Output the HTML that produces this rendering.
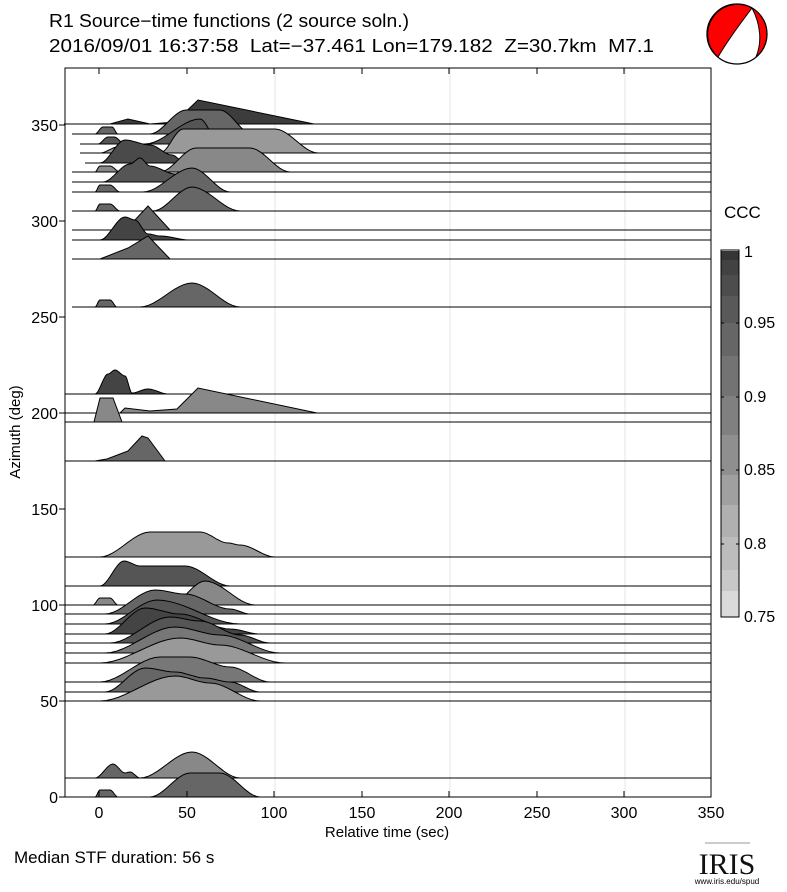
<!DOCTYPE html>
<html><head><meta charset="utf-8"><style>
body{margin:0;background:#fff;width:787px;height:887px;overflow:hidden;font-family:"Liberation Sans",sans-serif}
</style></head><body>
<svg id="s" width="787" height="887" xmlns="http://www.w3.org/2000/svg" font-family="Liberation Sans, sans-serif">
<rect width="787" height="887" fill="#fff"/>
<g stroke="#e6e6e6" stroke-width="1">
<line x1="275" y1="68" x2="275" y2="797"/><line x1="450" y1="68" x2="450" y2="797"/><line x1="625" y1="68" x2="625" y2="797"/>
</g>
<g id="tr"></g>
<rect x="65" y="68" width="646" height="729" fill="none" stroke="#000" stroke-width="1"/>
<g font-size="18" fill="#000">
<text x="49" y="27" textLength="360" lengthAdjust="spacingAndGlyphs">R1 Source−time functions (2 source soln.)</text>
<text x="49" y="52" textLength="605" lengthAdjust="spacingAndGlyphs" xml:space="preserve">2016/09/01 16:37:58  Lat=−37.461 Lon=179.182  Z=30.7km  M7.1</text>
</g>
<g font-size="16" text-anchor="end">
<text x="58" y="803">0</text><text x="58" y="707">50</text><text x="58" y="611">100</text><text x="58" y="515">150</text><text x="58" y="419">200</text><text x="58" y="323">250</text><text x="58" y="227">300</text><text x="58" y="131">350</text>
</g>
<g stroke="#000"><line x1="59" x2="65" y1="797" y2="797"/><line x1="59" x2="65" y1="701" y2="701"/><line x1="59" x2="65" y1="605" y2="605"/><line x1="59" x2="65" y1="509" y2="509"/><line x1="59" x2="65" y1="413" y2="413"/><line x1="59" x2="65" y1="317" y2="317"/><line x1="59" x2="65" y1="221" y2="221"/><line x1="59" x2="65" y1="125" y2="125"/>
<line x1="99" x2="99" y1="797" y2="791"/><line x1="187" x2="187" y1="797" y2="791"/><line x1="274" x2="274" y1="797" y2="791"/><line x1="362" x2="362" y1="797" y2="791"/><line x1="449" x2="449" y1="797" y2="791"/><line x1="537" x2="537" y1="797" y2="791"/><line x1="624" x2="624" y1="797" y2="791"/>
<line x1="99" x2="99" y1="68" y2="74"/><line x1="187" x2="187" y1="68" y2="74"/><line x1="274" x2="274" y1="68" y2="74"/><line x1="362" x2="362" y1="68" y2="74"/><line x1="449" x2="449" y1="68" y2="74"/><line x1="537" x2="537" y1="68" y2="74"/><line x1="624" x2="624" y1="68" y2="74"/></g>
<g font-size="16" text-anchor="middle">
<text x="99" y="818">0</text><text x="187" y="818">50</text><text x="274" y="818">100</text><text x="362" y="818">150</text><text x="449" y="818">200</text><text x="537" y="818">250</text><text x="624" y="818">300</text><text x="711" y="818">350</text>
<text x="387" y="837" font-size="15">Relative time (sec)</text>
<text x="20" y="432" font-size="15" transform="rotate(-90 20 432)">Azimuth (deg)</text>
</g>
<text x="14" y="863" font-size="17">Median STF duration: 56 s</text>
<text x="724" y="218" font-size="17">CCC</text>
<g id="cb"></g>
<g font-size="16"><text x="744" y="622">0.75</text><text x="744" y="549">0.8</text><text x="744" y="475">0.85</text><text x="744" y="402">0.9</text><text x="744" y="328">0.95</text><text x="744" y="257">1</text></g>
<g>
<circle cx="737" cy="34" r="30" fill="#fff" stroke="#000" stroke-width="1.3"/>
<path d="M752,8 A30,30 0 0 0 718,57 C728,40 740,24 752,8 Z" fill="#f00" stroke="#000"/>
<path d="M752,8 A30,30 0 0 1 756,57 C762,43 761,25 752,8 Z" fill="#f00" stroke="#000"/>
</g>
<text x="727" y="874" font-family="Liberation Serif, serif" font-size="30" text-anchor="middle" fill="#111">IRIS</text>
<line x1="705" y1="843" x2="750" y2="843" stroke="#999"/>
<text x="727" y="884" font-size="8" text-anchor="middle">www.iris.edu/spud</text>
</svg>
<script>
var T=[
[124,64,'#3c3c3c',0,[[110,0],[128,5],[150,0],[175,2],[198,24],[314,0]]],
[134,72,'#666',1,[[95,0],[103,7],[112,7],[118,0],[150,0],[186,24],[220,24],[252,0]]],
[144,80,'#555',1,[[98,0],[108,7],[114,7],[125,0],[145,0],[200,25],[220,0]]],
[153,80,'#999',1,[[100,0],[118,6],[125,0],[160,0],[183,24],[275,24],[318,0]]],
[163,85,'#4a4a4a',1,[[100,0],[125,23],[150,18],[172,8],[185,0]]],
[172,72,'#888',1,[[95,0],[100,6],[110,6],[120,0],[160,0],[196,24],[250,24],[290,0]]],
[182,72,'#555',1,[[103,0],[130,18],[140,24],[150,16],[175,8],[200,0]]],
[192,72,'#666',1,[[95,0],[100,7],[110,7],[120,0],[143,0],[192,24],[230,0]]],
[211,72,'#666',1,[[95,0],[100,7],[110,7],[120,0],[153,0],[192,24],[240,0]]],
[230,72,'#666',0,[[128,0],[133,8],[148,24],[170,0]]],
[240,72,'#444',1,[[100,0],[125,23],[135,20],[148,6],[160,4],[190,0]]],
[259,72,'#666',0,[[100,0],[128,11],[148,23],[170,0]]],
[307,72,'#666',1,[[95,0],[100,7],[110,7],[117,0],[140,0],[192,24],[240,0]]],
[394,65,'#444',1,[[95,0],[108,20],[115,24],[125,18],[132,1],[148,5],[168,0]]],
[413,65,'#888',0,[[120,0],[125,5],[150,2],[177,4],[198,25],[317,0]]],
[422,65,'#888',0,[[94,0],[100,24],[113,24],[122,0]]],
[461,65,'#666',0,[[95,0],[107,2],[128,10],[142,25],[148,23],[165,0]]],
[557,65,'#999',1,[[100,0],[150,25],[200,25],[228,14],[240,12],[275,0]]],
[586,65,'#555',1,[[100,0],[124,25],[140,20],[185,20],[230,0]]],
[605,65,'#888',1,[[93,0],[100,7],[110,7],[118,0],[170,0],[205,24],[255,0]]],
[614,65,'#666',1,[[105,0],[155,24],[185,20],[230,5],[250,0]]],
[624,65,'#555',1,[[105,0],[157,24],[240,0]]],
[634,65,'#444',1,[[105,0],[145,26],[180,20],[230,5],[260,0]]],
[643,65,'#555',1,[[110,0],[170,26],[200,22],[240,8],[270,0]]],
[653,65,'#777',1,[[105,0],[175,26],[220,18],[280,0]]],
[663,65,'#999',1,[[100,0],[180,25],[220,18],[285,0]]],
[682,65,'#777',1,[[100,0],[160,25],[190,25],[230,15],[270,0]]],
[692,65,'#666',1,[[105,0],[145,24],[175,20],[205,14],[230,10],[260,0]]],
[701,65,'#999',1,[[100,0],[175,25],[210,18],[260,0]]],
[778,65,'#666',1,[[95,0],[113,14],[125,5],[130,6],[140,0]]],
[778,65,'#888',1,[[140,0],[192,26],[240,0]]],
[797,65,'#666',1,[[95,0],[100,7],[110,7],[118,0],[150,0],[190,24],[220,24],[260,0]]]
];
var g=document.getElementById('tr'),h='';
T.forEach(function(t){var y=t[0],p=t[4],pts=[];
 for(var i=0;i<p.length-1;i++){var a=p[i],b=p[i+1];
  if(t[3]){for(var k=0;k<12;k++){var u=k/12,s=u*u*(3-2*u);pts.push([a[0]+(b[0]-a[0])*u,y-(a[1]+(b[1]-a[1])*s)]);}}
  else pts.push([a[0],y-a[1]]);}
 var l=p[p.length-1];pts.push([l[0],y-l[1]]);
 var d=pts.map(function(q){return q[0].toFixed(1)+','+q[1].toFixed(1)}).join(' ');
 h+='<polygon points="'+d+'" fill="'+t[2]+'" stroke="none"/>';
 h+='<polyline points="'+d+'" fill="none" stroke="#000" stroke-width="1"/>';
 h+='<line x1="'+t[1]+'" x2="711" y1="'+y+'" y2="'+y+'" stroke="#000" stroke-width="1"/>';});
g.innerHTML=h;
var B=[251,260,275,296,323,356,396,435,475,505,537,570,591,617];
var C=['#353535','#424242','#4d4d4d','#595959','#666','#737373','#808080','#8f8f8f','#a0a0a0','#b0b0b0','#bcbcbc','#c8c8c8','#dadada'];
var c='';for(var i=0;i<C.length;i++){c+='<rect x="721" y="'+B[i]+'" width="18" height="'+(B[i+1]-B[i]+0.5)+'" fill="'+C[i]+'"/>';}
c+='<rect x="721" y="250" width="18" height="367" fill="none" stroke="#000"/>';
[328,402,475,549].forEach(function(y){c+='<line x1="721" x2="724" y1="'+(y-5)+'" y2="'+(y-5)+'" stroke="#000"/><line x1="736" x2="739" y1="'+(y-5)+'" y2="'+(y-5)+'" stroke="#000"/>';});
document.getElementById('cb').innerHTML=c;
</script>
</body></html>
